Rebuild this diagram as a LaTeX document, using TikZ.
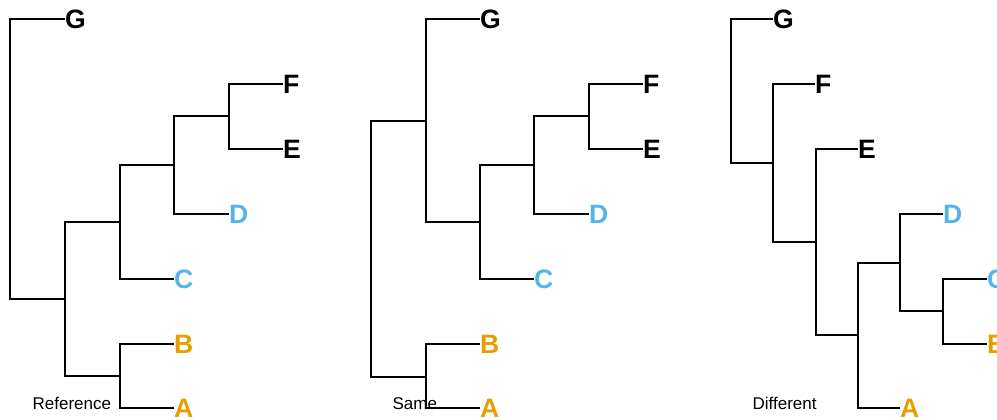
\documentclass[tikz,border=0pt]{standalone}
\usepackage{fontspec}
\setmainfont{Liberation Sans}
\definecolor{orng}{HTML}{E69F00}
\definecolor{skyb}{HTML}{56B4E9}
\begin{document}
\begin{tikzpicture}[x=0.5pt,y=-0.5pt,line width=0.6pt,
    leaf/.style={anchor=west,inner sep=0pt,outer sep=0pt,font=\fontsize{13.3}{14}\selectfont\bfseries},
    treename/.style={anchor=base west,inner sep=0pt,font=\fontsize{8.5}{10}\selectfont}]
    \useasboundingbox (0,0) rectangle (997,419);

    % Reference
    \coordinate (a0) at (10,159);
    \coordinate (a1) at (65,299);
    \coordinate (a2) at (120,376);
    \coordinate (a3) at (120,222);
    \coordinate (a4) at (174,165);
    \coordinate (a5) at (229,116);
    \node[leaf] (aG) at (65,19) {G};
    \node[leaf] (aF) at (283,84) {F};
    \node[leaf] (aE) at (283,149) {E};
    \node[leaf,skyb] (aD) at (229,214) {D};
    \node[leaf,skyb] (aC) at (174,279) {C};
    \node[leaf,orng] (aB) at (174,344) {B};
    \node[leaf,orng] (aA) at (174,408) {A};

    \draw (a0) |- (aG.west);
    \draw (a0) |- (a1);
    \draw (a1) |- (a2);
    \draw (a1) |- (a3);
    \draw (a2) |- (aB.west);
    \draw (a2) |- (aA.west);
    \draw (a3) |- (aC.west);
    \draw (a3) |- (a4);
    \draw (a4) |- (aD.west);
    \draw (a4) |- (a5);
    \draw (a5) |- (aF.west);
    \draw (a5) |- (aE.west);

    \node[treename] (aname) at (32,409) {Reference};

    % Same
    \coordinate (b0) at (371,249);
    \coordinate (b1) at (426,121);
    \coordinate (b2) at (426,377);
    \coordinate (b3) at (480,222);
    \coordinate (b4) at (534,165);
    \coordinate (b5) at (589,116);
    \node[leaf] (bG) at (480,19) {G};
    \node[leaf] (bF) at (643,84) {F};
    \node[leaf] (bE) at (643,149) {E};
    \node[leaf,skyb] (bD) at (589,214) {D};
    \node[leaf,skyb] (bC) at (534,279) {C};
    \node[leaf,orng] (bB) at (480,344) {B};
    \node[leaf,orng] (bA) at (480,408) {A};

    \draw (b0) |- (b1);
    \draw (b0) |- (b2);
    \draw (b1) |- (bG.west);
    \draw (b1) |- (b3);
    \draw (b2) |- (bB.west);
    \draw (b2) |- (bA.west);
    \draw (b3) |- (b4);
    \draw (b3) |- (bC.west);
    \draw (b4) |- (b5);
    \draw (b4) |- (bD.west);
    \draw (b5) |- (bF.west);
    \draw (b5) |- (bE.west);

    \node[treename] (bname) at (392,409) {Same};

    % Different
    \coordinate (c0) at (731,91);
    \coordinate (c1) at (773,163);
    \coordinate (c2) at (816,242);
    \coordinate (c3) at (858,335);
    \coordinate (c4) at (900,263);
    \coordinate (c5) at (943,311);
    \node[leaf] (cG) at (773,19) {G};
    \node[leaf] (cF) at (815,84) {F};
    \node[leaf] (cE) at (858,149) {E};
    \node[leaf,skyb] (cD) at (943,214) {D};
    \node[leaf,skyb] (cC) at (987,279) {C};
    \node[leaf,orng] (cB) at (987,344) {B};
    \node[leaf,orng] (cA) at (900,408) {A};

    \draw (c0) |- (cG.west);
    \draw (c0) |- (c1);
    \draw (c1) |- (cF.west);
    \draw (c1) |- (c2);
    \draw (c2) |- (cE.west);
    \draw (c2) |- (c3);
    \draw (c3) |- (c4);
    \draw (c3) |- (cA.west);
    \draw (c4) |- (cD.west);
    \draw (c4) |- (c5);
    \draw (c5) |- (cC.west);
    \draw (c5) |- (cB.west);

    \node[treename] (cname) at (752,409) {Different};
\end{tikzpicture}
\end{document}
